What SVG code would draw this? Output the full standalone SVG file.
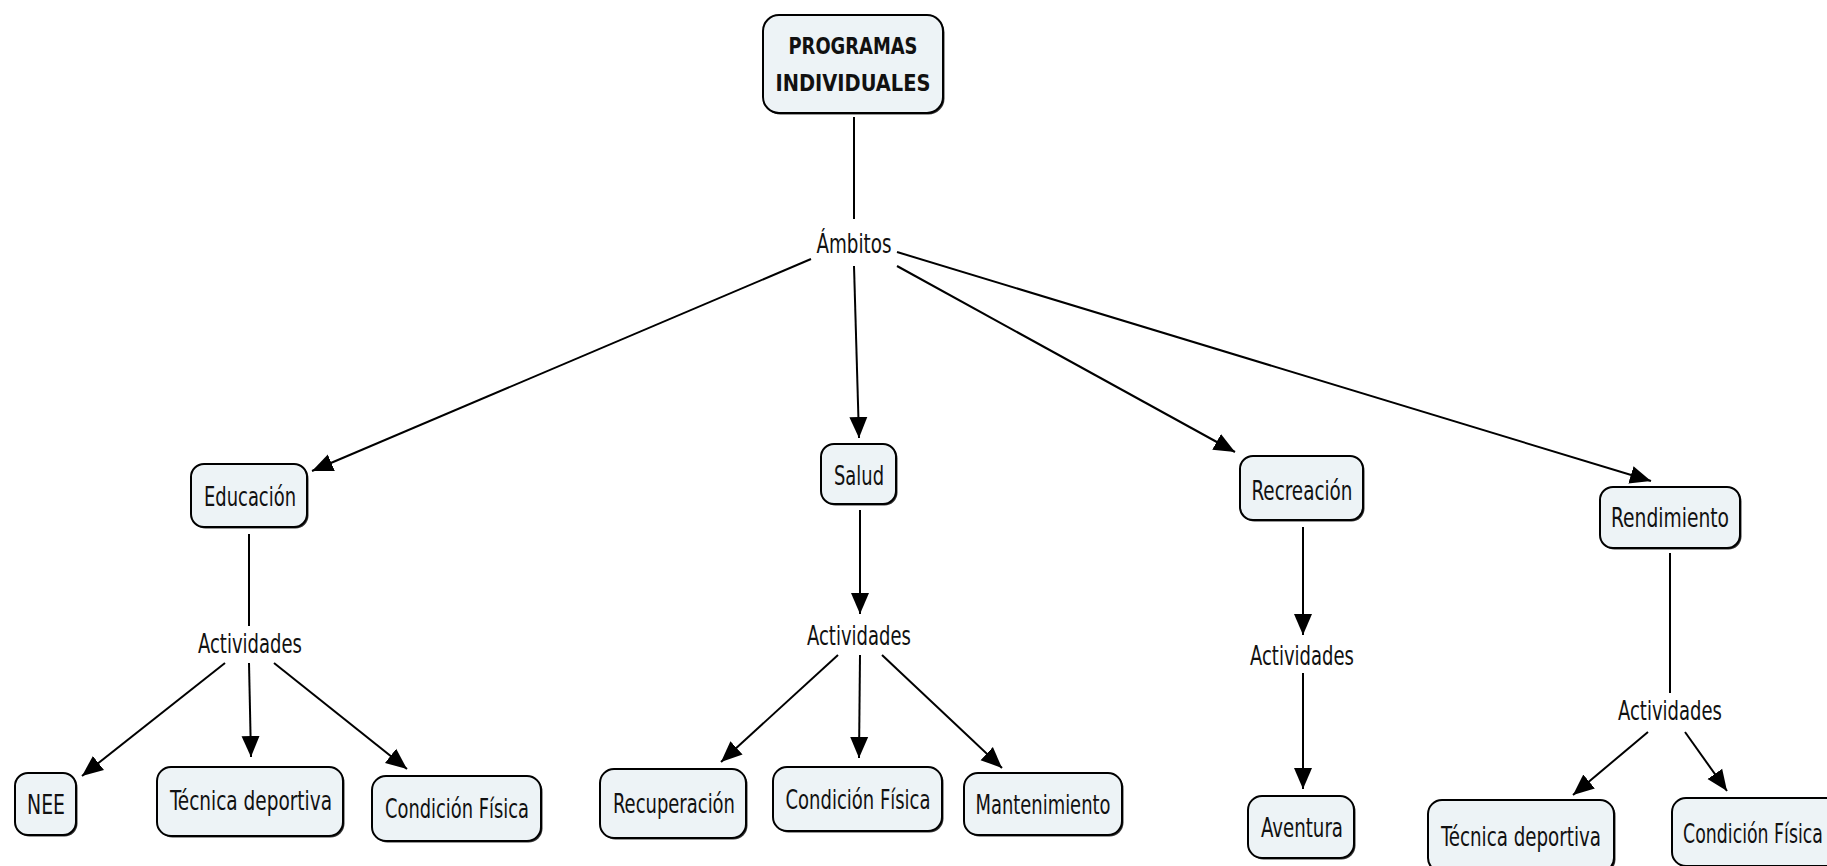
<svg xmlns="http://www.w3.org/2000/svg" width="1827" height="866" viewBox="0 0 1827 866">
<defs>
<marker id="ah" markerUnits="userSpaceOnUse" markerWidth="22" markerHeight="20" refX="21" refY="9" orient="auto" viewBox="0 0 22 18">
<path d="M0,0 L21,9 L0,18 z" fill="#000"/>
</marker>
<style>
.box{fill:#edf3f6;stroke:#000;stroke-width:2}
.sh{fill:#333}
.t{font-family:"DejaVu Sans Condensed","DejaVu Sans","Liberation Sans",sans-serif;font-stretch:condensed;font-size:27px;fill:#111;text-anchor:middle}
.b{font-weight:bold;font-size:23px}
.c line{stroke:#000;stroke-width:2}
</style>
</defs>
<rect width="1827" height="866" fill="#fff"/>
<g class="c" id="connectors">
<line x1="854" y1="117" x2="854" y2="219"/>
<line x1="811" y1="259" x2="312" y2="471" marker-end="url(#ah)"/>
<line x1="854" y1="266" x2="859" y2="438" marker-end="url(#ah)"/>
<line x1="897" y1="266" x2="1235" y2="452" marker-end="url(#ah)"/>
<line x1="897" y1="252" x2="1651" y2="481" marker-end="url(#ah)"/>
<line x1="249" y1="534" x2="249" y2="626"/>
<line x1="225" y1="663" x2="82" y2="776" marker-end="url(#ah)"/>
<line x1="249" y1="663" x2="251" y2="757" marker-end="url(#ah)"/>
<line x1="274" y1="663" x2="407" y2="769" marker-end="url(#ah)"/>
<line x1="860" y1="510" x2="860" y2="614" marker-end="url(#ah)"/>
<line x1="838" y1="655" x2="721" y2="762" marker-end="url(#ah)"/>
<line x1="860" y1="655" x2="859" y2="758" marker-end="url(#ah)"/>
<line x1="882" y1="655" x2="1002" y2="768" marker-end="url(#ah)"/>
<line x1="1303" y1="527" x2="1303" y2="635" marker-end="url(#ah)"/>
<line x1="1303" y1="673" x2="1303" y2="789" marker-end="url(#ah)"/>
<line x1="1670" y1="553" x2="1670" y2="693"/>
<line x1="1648" y1="732" x2="1573" y2="795" marker-end="url(#ah)"/>
<line x1="1685" y1="732" x2="1727" y2="791" marker-end="url(#ah)"/>
</g>
<g id="root">
<rect class="sh" x="764.5" y="16.5" width="180" height="98" rx="16"/>
<rect class="box" x="763" y="15" width="180" height="98" rx="16"/>
<text class="t b" x="853" y="54" textLength="129" lengthAdjust="spacingAndGlyphs">PROGRAMAS</text>
<text class="t b" x="853" y="91" textLength="155" lengthAdjust="spacingAndGlyphs">INDIVIDUALES</text>
</g>
<g id="ambitos"><text class="t" x="854" y="253" textLength="75" lengthAdjust="spacingAndGlyphs">Ámbitos</text></g>
<g id="educacion">
<rect class="sh" x="192.5" y="465.5" width="116" height="63" rx="13"/>
<rect class="box" x="191" y="464" width="116" height="63" rx="13"/>
<text class="t" x="250" y="506" textLength="92" lengthAdjust="spacingAndGlyphs">Educación</text>
</g>
<g id="salud">
<rect class="sh" x="822.5" y="445.5" width="75" height="60" rx="13"/>
<rect class="box" x="821" y="444" width="75" height="60" rx="13"/>
<text class="t" x="859" y="485" textLength="50" lengthAdjust="spacingAndGlyphs">Salud</text>
</g>
<g id="recreacion">
<rect class="sh" x="1241.5" y="457.5" width="123" height="64" rx="13"/>
<rect class="box" x="1240" y="456" width="123" height="64" rx="13"/>
<text class="t" x="1302" y="500" textLength="101" lengthAdjust="spacingAndGlyphs">Recreación</text>
</g>
<g id="rendimiento">
<rect class="sh" x="1601.5" y="488.5" width="140" height="61" rx="13"/>
<rect class="box" x="1600" y="487" width="140" height="61" rx="13"/>
<text class="t" x="1670" y="527" textLength="118" lengthAdjust="spacingAndGlyphs">Rendimiento</text>
</g>
<g id="act1"><text class="t" x="250" y="653" textLength="104" lengthAdjust="spacingAndGlyphs">Actividades</text></g>
<g id="act2"><text class="t" x="859" y="645" textLength="104" lengthAdjust="spacingAndGlyphs">Actividades</text></g>
<g id="act3"><text class="t" x="1302" y="665" textLength="104" lengthAdjust="spacingAndGlyphs">Actividades</text></g>
<g id="act4"><text class="t" x="1670" y="720" textLength="104" lengthAdjust="spacingAndGlyphs">Actividades</text></g>
<g id="nee">
<rect class="sh" x="16.5" y="774.5" width="61" height="62" rx="13"/>
<rect class="box" x="15" y="773" width="61" height="62" rx="13"/>
<text class="t" x="46" y="814" textLength="38" lengthAdjust="spacingAndGlyphs">NEE</text>
</g>
<g id="tecnica1">
<rect class="sh" x="158.5" y="768.5" width="186" height="69" rx="14"/>
<rect class="box" x="157" y="767" width="186" height="69" rx="14"/>
<text class="t" x="251" y="810" textLength="162" lengthAdjust="spacingAndGlyphs">Técnica deportiva</text>
</g>
<g id="condicion1">
<rect class="sh" x="373.5" y="777.5" width="169" height="65" rx="14"/>
<rect class="box" x="372" y="776" width="169" height="65" rx="14"/>
<text class="t" x="457" y="818" textLength="144" lengthAdjust="spacingAndGlyphs">Condición Física</text>
</g>
<g id="recuperacion">
<rect class="sh" x="601.5" y="770.5" width="146" height="69" rx="14"/>
<rect class="box" x="600" y="769" width="146" height="69" rx="14"/>
<text class="t" x="674" y="813" textLength="122" lengthAdjust="spacingAndGlyphs">Recuperación</text>
</g>
<g id="condicion2">
<rect class="sh" x="774.5" y="768.5" width="169" height="64" rx="14"/>
<rect class="box" x="773" y="767" width="169" height="64" rx="14"/>
<text class="t" x="858" y="809" textLength="145" lengthAdjust="spacingAndGlyphs">Condición Física</text>
</g>
<g id="mantenimiento">
<rect class="sh" x="965.5" y="774.5" width="158" height="62" rx="14"/>
<rect class="box" x="964" y="773" width="158" height="62" rx="14"/>
<text class="t" x="1043" y="814" textLength="135" lengthAdjust="spacingAndGlyphs">Mantenimiento</text>
</g>
<g id="aventura">
<rect class="sh" x="1249.5" y="797.5" width="106" height="62" rx="14"/>
<rect class="box" x="1248" y="796" width="106" height="62" rx="14"/>
<text class="t" x="1302" y="837" textLength="82" lengthAdjust="spacingAndGlyphs">Aventura</text>
</g>
<g id="tecnica2">
<rect class="sh" x="1429.5" y="801.5" width="186" height="72" rx="14"/>
<rect class="box" x="1428" y="800" width="186" height="72" rx="14"/>
<text class="t" x="1521" y="846" textLength="160" lengthAdjust="spacingAndGlyphs">Técnica deportiva</text>
</g>
<g id="condicion3">
<rect class="sh" x="1673.5" y="799.5" width="170" height="68" rx="14"/>
<rect class="box" x="1672" y="798" width="170" height="68" rx="14"/>
<text class="t" transform="translate(1753,843) scale(0.74,1)" x="0" y="0" textLength="189" lengthAdjust="spacingAndGlyphs">Condición Física</text>
</g>
</svg>
